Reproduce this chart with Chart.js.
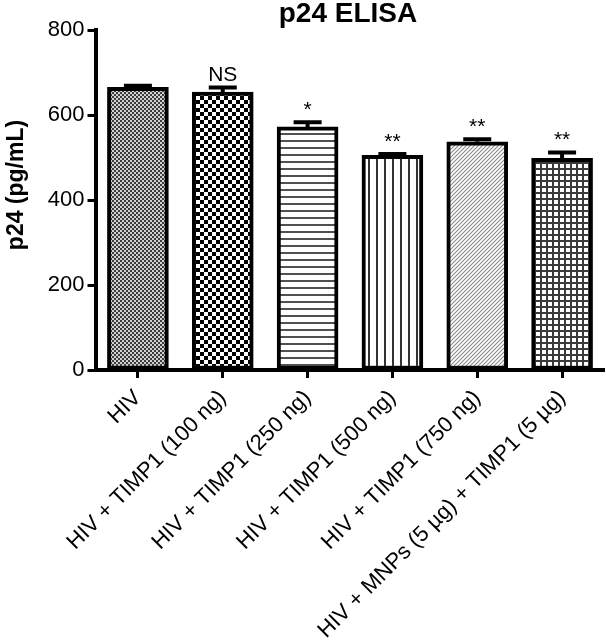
<!DOCTYPE html>
<html>
<head>
<meta charset="utf-8">
<script src="https://cdn.jsdelivr.net/npm/chart.js@4"></script>
<style>
  body { margin: 0; background: #fff; }
</style>
</head>
<body>
<canvas id="p24Chart" width="606" height="644"></canvas>
<script>
const categories = [
  'HIV',
  'HIV + TIMP1 (100 ng)',
  'HIV + TIMP1 (250 ng)',
  'HIV + TIMP1 (500 ng)',
  'HIV + TIMP1 (750 ng)',
  'HIV + MNPs (5 µg) + TIMP1 (5 µg)'
];
const means = [665, 654, 572, 505, 537, 498];
const errors = [4, 11, 11, 3, 6, 14];
const marks = ['', 'NS', '*', '**', '**', '**'];
const yTicks = [0, 200, 400, 600, 800];

const FONT = "'Liberation Sans', Arial, sans-serif";
const canvas = document.getElementById('p24Chart');
const ctx = canvas.getContext('2d');

// small tiles used as bar fills
function makePattern(w, h, draw) {
  const c = document.createElement('canvas');
  c.width = w;
  c.height = h;
  const g = c.getContext('2d');
  g.fillStyle = '#fff';
  g.fillRect(0, 0, w, h);
  draw(g);
  return ctx.createPattern(c, 'repeat');
}

const fills = [
  makePattern(4, 4, g => {
    g.fillStyle = '#d2d2d2';
    g.fillRect(0, 0, 4, 4);
    g.fillStyle = '#3c3c3c';
    g.fillRect(0, 0, 2, 2);
    g.fillRect(2, 2, 2, 2);
  }),
  makePattern(8, 8, g => {
    g.fillStyle = '#000';
    g.fillRect(0, 0, 4, 4);
    g.fillRect(4, 4, 4, 4);
  }),
  makePattern(1, 7, g => {
    g.fillStyle = '#505050';
    g.fillRect(0, 0, 1, 2);
  }),
  makePattern(8, 1, g => {
    g.fillStyle = '#333';
    g.fillRect(0, 0, 2, 1);
  }),
  makePattern(4, 4, g => {
    g.strokeStyle = '#8a8a8a';
    g.lineWidth = 1.1;
    g.beginPath();
    g.moveTo(-1, 5); g.lineTo(5, -1);
    g.moveTo(-1, 1); g.lineTo(1, -1);
    g.moveTo(3, 5); g.lineTo(5, 3);
    g.stroke();
  }),
  makePattern(6, 6, g => {
    g.fillStyle = '#3a3a3a';
    g.fillRect(0, 0, 6, 2);
    g.fillRect(0, 0, 2, 6);
  })
];

// error bars (upper half), significance marks and the two titles
const extras = {
  id: 'extras',
  afterDatasetsDraw(chart) {
    const c = chart.ctx;
    const y = chart.scales.y;
    const bars = chart.getDatasetMeta(0).data;
    c.save();
    c.strokeStyle = '#000';
    c.fillStyle = '#000';
    c.lineWidth = 4;
    bars.forEach((bar, i) => {
      const top = y.getPixelForValue(means[i]);
      const cap = y.getPixelForValue(means[i] + errors[i]);
      c.beginPath();
      c.moveTo(bar.x, top);
      c.lineTo(bar.x, cap);
      c.moveTo(bar.x - 14, cap);
      c.lineTo(bar.x + 14, cap);
      c.stroke();
      if (marks[i]) {
        c.font = '21px ' + FONT;
        c.textAlign = 'center';
        c.textBaseline = 'alphabetic';
        c.fillText(marks[i], bar.x, cap - 6);
      }
    });

    c.font = 'bold 28px ' + FONT;
    c.textAlign = 'center';
    c.fillText('p24 ELISA', 348, 22);

    c.translate(17, 185);
    c.rotate(-Math.PI / 2);
    c.font = 'bold 23px ' + FONT;
    c.textBaseline = 'middle';
    c.fillText('p24 (pg/mL)', 0, 0);
    c.restore();
  }
};

new Chart(ctx, {
  type: 'bar',
  data: {
    labels: categories,
    datasets: [{
      data: means,
      backgroundColor: fills,
      borderColor: '#000',
      borderWidth: 4,
      borderSkipped: false,
      barThickness: 61
    }]
  },
  options: {
    responsive: false,
    animation: false,
    layout: { padding: { top: 30, right: 1.5, left: 0, bottom: 0 } },
    plugins: {
      legend: { display: false },
      tooltip: { enabled: false },
      title: { display: false }
    },
    scales: {
      x: {
        afterFit: s => { s.height = 274; },
        border: { display: true, color: '#000', width: 4 },
        grid: { offset: false, drawOnChartArea: false, tickLength: 8, tickWidth: 3, tickColor: '#000' },
        ticks: {
          autoSkip: false,
          minRotation: 45,
          maxRotation: 45,
          padding: 7,
          color: '#000',
          font: { family: FONT, size: 22 }
        }
      },
      y: {
        min: 0,
        max: 800,
        afterBuildTicks: s => { s.ticks = yTicks.map(v => ({ value: v })); },
        afterFit: s => { s.width = 95.5; },
        border: { display: true, color: '#000', width: 4 },
        grid: { drawOnChartArea: false, tickLength: 8, tickWidth: 3, tickColor: '#000' },
        ticks: {
          padding: 3,
          color: '#000',
          font: { family: FONT, size: 22 }
        }
      }
    }
  },
  plugins: [extras]
});
</script>
</body>
</html>
